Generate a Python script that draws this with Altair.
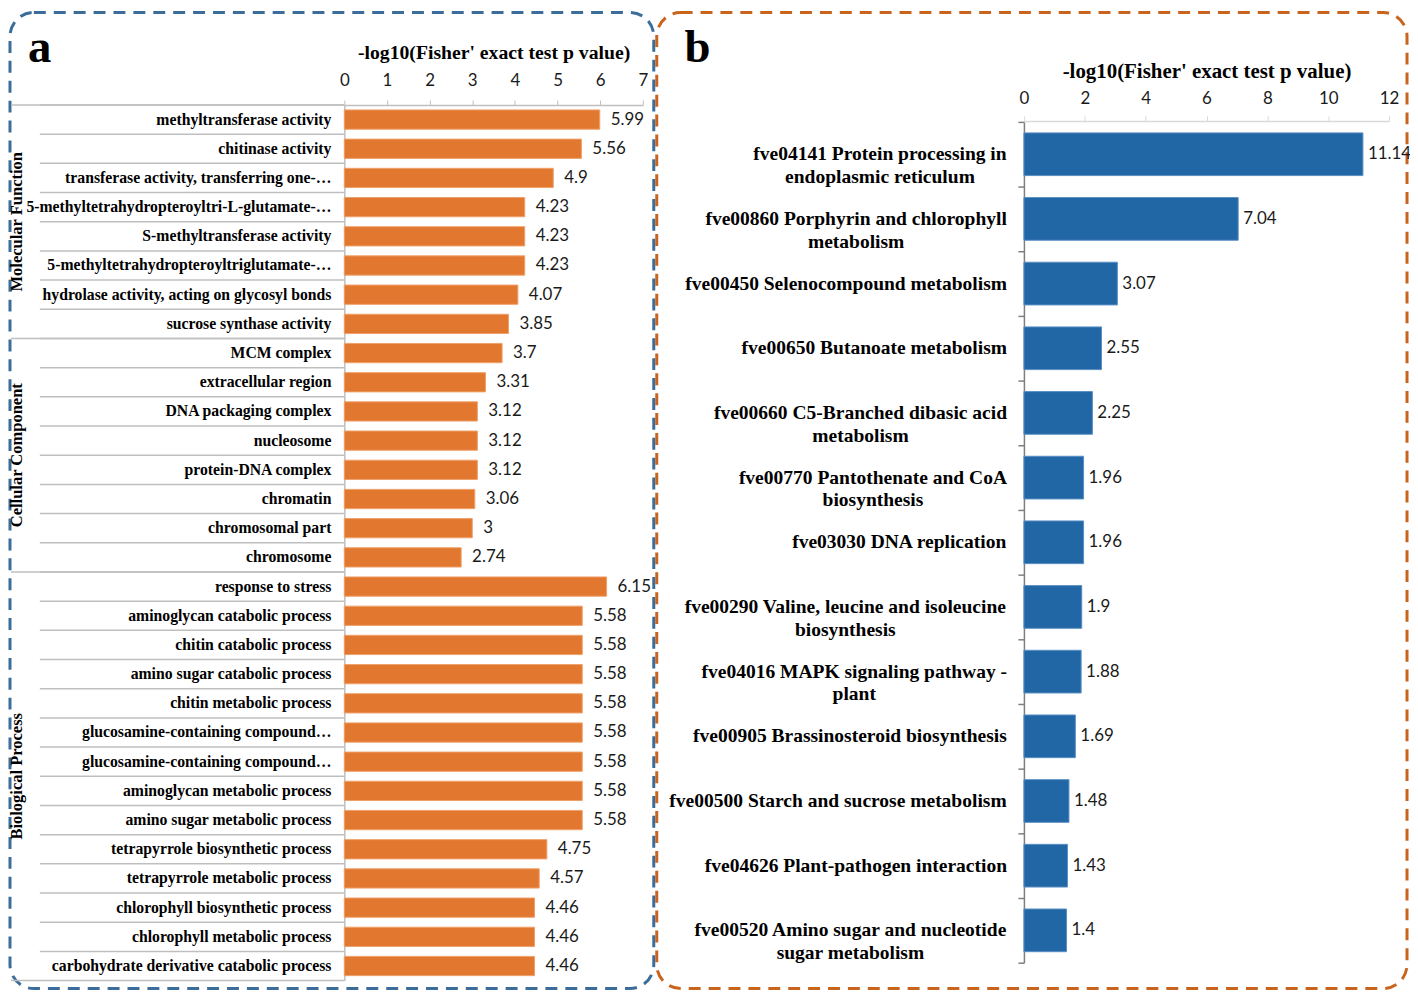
import altair as alt
import pandas as pd

# ---------------- data: panel a (GO enrichment) ----------------
mf_terms = [
    "methyltransferase activity",
    "chitinase activity",
    "transferase activity, transferring one-…",
    "5-methyltetrahydropteroyltri-L-glutamate-…",
    "S-methyltransferase activity",
    "5-methyltetrahydropteroyltriglutamate-…",
    "hydrolase activity, acting on glycosyl bonds",
    "sucrose synthase activity",
]
mf_values = [5.99, 5.56, 4.9, 4.23, 4.23, 4.23, 4.07, 3.85]

cc_terms = [
    "MCM complex",
    "extracellular region",
    "DNA packaging complex",
    "nucleosome",
    "protein-DNA complex",
    "chromatin",
    "chromosomal part",
    "chromosome",
]
cc_values = [3.7, 3.31, 3.12, 3.12, 3.12, 3.06, 3, 2.74]

bp_terms = [
    "response to stress",
    "aminoglycan catabolic process",
    "chitin catabolic process",
    "amino sugar catabolic process",
    "chitin metabolic process",
    "glucosamine-containing compound…",
    "glucosamine-containing compound…",
    "aminoglycan metabolic process",
    "amino sugar metabolic process",
    "tetrapyrrole biosynthetic process",
    "tetrapyrrole metabolic process",
    "chlorophyll biosynthetic process",
    "chlorophyll metabolic process",
    "carbohydrate derivative catabolic process",
]
bp_values = [6.15, 5.58, 5.58, 5.58, 5.58, 5.58, 5.58, 5.58, 5.58,
             4.75, 4.57, 4.46, 4.46, 4.46]

group_names = ["Molecular Function", "Cellular Component", "Biological Process"]
a_ticks = [0, 1, 2, 3, 4, 5, 6, 7]

# ---------------- data: panel b (KEGG enrichment) ----------------
kegg_terms = [
    "fve04141 Protein processing in\nendoplasmic reticulum",
    "fve00860 Porphyrin and chlorophyll\nmetabolism",
    "fve00450 Selenocompound metabolism",
    "fve00650 Butanoate metabolism",
    "fve00660 C5-Branched dibasic acid\nmetabolism",
    "fve00770 Pantothenate and CoA\nbiosynthesis",
    "fve03030 DNA replication",
    "fve00290 Valine, leucine and isoleucine\nbiosynthesis",
    "fve04016 MAPK signaling pathway -\nplant",
    "fve00905 Brassinosteroid biosynthesis",
    "fve00500 Starch and sucrose metabolism",
    "fve04626 Plant-pathogen interaction",
    "fve00520 Amino sugar and nucleotide\nsugar metabolism",
]
kegg_values = [11.14, 7.04, 3.07, 2.55, 2.25, 1.96, 1.96, 1.9, 1.88, 1.69, 1.48, 1.43, 1.4]
b_ticks = [0, 2, 4, 6, 8, 10, 12]

AXIS_TITLE = "-log10(Fisher' exact test p value)"

# ---------------- styling / layout ----------------
SERIF = "Liberation Serif"
SANS = "Lato"
ORANGE = "#E2782F"
BLUE = "#2166A5"
BORDER_BLUE = "#3A6D9A"
BORDER_ORANGE = "#C8641E"
GRID = "#BFBFBF"
NUM = "#1a1a1a"

PAD_L, PAD_T = 338, 95          # plot origin of panel a on the page
VIEW_W, VIEW_H = 1071, 890

A_W, A_H = 300, 880             # panel a plotting range
B_X0, B_W = 683, 367            # panel b x range starts here
B_Y0, B_Y1 = 17, 862            # panel b y range

one = pd.DataFrame({"k": [0]})

# ---------------- panel a ----------------
rows = []
groups = [(group_names[0], mf_terms, mf_values),
          (group_names[1], cc_terms, cc_values),
          (group_names[2], bp_terms, bp_values)]
r = 0
grp_rows = []
for gname, terms, vals in groups:
    start = r
    for t, v in zip(terms, vals):
        rows.append({"row": r, "term": t, "value": v, "group": gname,
                     "first": r == start})
        r += 1
    grp_rows.append({"group": gname, "row": start + len(terms) // 2})
dfa = pd.DataFrame(rows)
dfg = pd.DataFrame(grp_rows)
dfa_last = dfa.tail(1)
a_rows = list(dfa["row"])

ya_scale = alt.Scale(domain=a_rows, range=[0, A_H], paddingInner=0, paddingOuter=0)
xa_scale = alt.Scale(domain=[0, 7], range=[0, A_W], nice=False, zero=True)
ya = alt.Y("row:O", scale=ya_scale,
           axis=alt.Axis(labels=False, ticks=False, title=None, domain=True,
                         domainColor=GRID, domainWidth=1.5, grid=False, orient="left"))
ya_plain = alt.Y("row:O", scale=ya_scale)

base_a = alt.Chart(dfa)

bars_a = base_a.mark_bar(height={"band": 0.66}, color=ORANGE,
                         stroke="#F0A06A", strokeWidth=1).encode(
    x=alt.X("value:Q", scale=xa_scale,
            axis=alt.Axis(orient="top", values=a_ticks, format="d", title=AXIS_TITLE,
                          grid=False, domainColor=GRID, domainWidth=1.5,
                          tickColor=GRID, tickSize=5, tickWidth=1,
                          labelFont=SANS, labelFontSize=17, labelColor=NUM,
                          labelPadding=15, labelBaseline="alphabetic",
                          labelFlush=False,
                          titleFont=SERIF, titleFontSize=19.8, titleFontWeight="bold",
                          titleColor="#000", titleY=-47, titleBaseline="alphabetic")),
    y=ya,
)
vals_a = base_a.mark_text(align="left", baseline="middle", dx=11, font=SANS,
                          fontSize=17, color=NUM).encode(
    x=alt.X("value:Q", scale=xa_scale),
    y=ya_plain,
    text=alt.Text("value:Q", format="~g"),
)
labels_a = base_a.mark_text(align="right", baseline="middle", font=SERIF,
                            fontSize=15.8, fontWeight="bold", color="#000").encode(
    x=alt.value(-13),
    y=ya_plain,
    text="term:N",
)
sep_short = base_a.mark_rule(color=GRID, strokeWidth=1.5).encode(
    x=alt.value(-306), x2=alt.value(0),
    y=alt.Y("row:O", scale=ya_scale, bandPosition=0),
)
sep_long = base_a.transform_filter("datum.first").mark_rule(
    color=GRID, strokeWidth=1.5).encode(
    x=alt.value(-335), x2=alt.value(0),
    y=alt.Y("row:O", scale=ya_scale, bandPosition=0),
)
sep_bottom = alt.Chart(dfa_last).mark_rule(color=GRID, strokeWidth=1.5).encode(
    x=alt.value(-335), x2=alt.value(0),
    y=alt.Y("row:O", scale=ya_scale, bandPosition=1),
)
grp_a = alt.Chart(dfg).mark_text(angle=270, align="center", baseline="middle",
                                 font=SERIF, fontSize=16.6, fontWeight="bold",
                                 color="#000").encode(
    x=alt.value(-328.5),
    y=alt.Y("row:O", scale=ya_scale, bandPosition=0),
    text="group:N",
)
border_a = alt.Chart(one).mark_rect(
    fillOpacity=0, stroke=BORDER_BLUE, strokeWidth=3, strokeDash=[12, 8],
    cornerRadius=24).encode(
    x=alt.value(-336), x2=alt.value(311),
    y=alt.value(-93), y2=alt.value(888),
)
letter_a = alt.Chart(one).mark_text(
    text="a", font=SERIF, fontSize=47, fontWeight="bold", color="#000",
    align="left", baseline="alphabetic").encode(
    x=alt.value(-318), y=alt.value(-43))

panel_a = alt.layer(bars_a, border_a, letter_a, sep_short, sep_long, sep_bottom,
                    grp_a, labels_a, vals_a)

# ---------------- panel b ----------------
# Times-Bold advance widths (per 1000 em) used to centre the two-line labels
TB = {" ": 250, "-": 333, ",": 250, ".": 250, "'": 278,
      "A": 722, "B": 667, "C": 722, "D": 722, "E": 667, "F": 611, "G": 778,
      "H": 778, "I": 389, "J": 500, "K": 778, "L": 667, "M": 944, "N": 722,
      "O": 778, "P": 611, "Q": 778, "R": 722, "S": 556, "T": 667, "U": 722,
      "V": 722, "W": 1000, "X": 722, "Y": 722, "Z": 667,
      "a": 500, "b": 556, "c": 444, "d": 556, "e": 444, "f": 333, "g": 500,
      "h": 556, "i": 278, "j": 333, "k": 556, "l": 278, "m": 833, "n": 556,
      "o": 500, "p": 556, "q": 556, "r": 444, "s": 389, "t": 333, "u": 556,
      "v": 500, "w": 722, "x": 500, "y": 500, "z": 444}
B_FS = 19.6
B_PAD = 17
px_per_unit = B_W / b_ticks[-1]


def text_w(s, fs):
    return sum(TB.get(ch, 500) for ch in s) / 1000.0 * fs


label_x = []
for t in kegg_terms:
    w = max(text_w(line, B_FS) for line in t.split("\n"))
    label_x.append((-B_PAD - w / 2.0) / px_per_unit)

dfb = pd.DataFrame({"row": list(range(len(kegg_terms))), "term": kegg_terms,
                    "value": kegg_values, "lx": label_x})

xb_scale = alt.Scale(domain=[0, 12], range=[B_X0, B_X0 + B_W], nice=False, zero=True)
yb_scale = alt.Scale(domain=list(dfb["row"]), range=[B_Y0, B_Y1],
                     paddingInner=0, paddingOuter=0)
yb = alt.Y("row:O", scale=yb_scale,
           axis=alt.Axis(orient="left", offset=-B_X0, labels=False, ticks=True,
                         tickBand="extent", tickSize=6,
                         tickColor="#7F7F7F", domainColor="#7F7F7F", domainWidth=1.5,
                         tickWidth=1.5, title=None, grid=False))
yb_plain = alt.Y("row:O", scale=yb_scale)

base_b = alt.Chart(dfb)
bars_b = base_b.mark_bar(height={"band": 0.66}, color=BLUE,
                         stroke="#5A8FC4", strokeWidth=1).encode(
    x=alt.X("value:Q", scale=xb_scale,
            axis=alt.Axis(orient="top", values=b_ticks, format="d", title=AXIS_TITLE,
                          grid=False, domainColor="#D9D9D9", domainWidth=1.5,
                          tickColor="#D9D9D9", tickSize=5, tickWidth=1,
                          offset=-(B_Y0 - 1),
                          labelFont=SANS, labelFontSize=17, labelColor=NUM,
                          labelPadding=12, labelBaseline="alphabetic",
                          labelFlush=False,
                          titleFont=SERIF, titleFontSize=21, titleFontWeight="bold",
                          titleColor="#000", titleY=-44, titleBaseline="alphabetic")),
    y=yb,
)
vals_b = base_b.mark_text(align="left", baseline="middle", dx=5, font=SANS,
                          fontSize=17, color=NUM).encode(
    x=alt.X("value:Q", scale=xb_scale),
    y=yb_plain,
    text=alt.Text("value:Q", format="~g"),
)
labels_b = base_b.mark_text(align="center", baseline="middle", font=SERIF,
                            fontSize=B_FS, fontWeight="bold", color="#000",
                            lineBreak="\n", lineHeight=23).encode(
    x=alt.X("lx:Q", scale=xb_scale),
    y=yb_plain,
    text="term:N",
)
border_b = alt.Chart(one).mark_rect(
    fillOpacity=0, stroke=BORDER_ORANGE, strokeWidth=3, strokeDash=[12, 8],
    cornerRadius=24).encode(
    x=alt.value(314), x2=alt.value(1068),
    y=alt.value(-93), y2=alt.value(888),
)
letter_b = alt.Chart(one).mark_text(
    text="b", font=SERIF, fontSize=47, fontWeight="bold", color="#000",
    align="left", baseline="alphabetic").encode(
    x=alt.value(342), y=alt.value(-43))

panel_b = alt.layer(bars_b, border_b, letter_b, labels_b, vals_b)

chart = alt.layer(panel_a, panel_b).resolve_scale(
    x="independent", y="independent"
).resolve_axis(
    x="independent", y="independent"
).properties(
    width=VIEW_W, height=VIEW_H,
    padding={"left": PAD_L, "top": PAD_T, "right": 0, "bottom": 0},
    autosize=alt.AutoSizeParams(type="none"),
).configure_view(stroke=None)

chart.save("out.html", embed_options={"renderer": "svg", "actions": False})
